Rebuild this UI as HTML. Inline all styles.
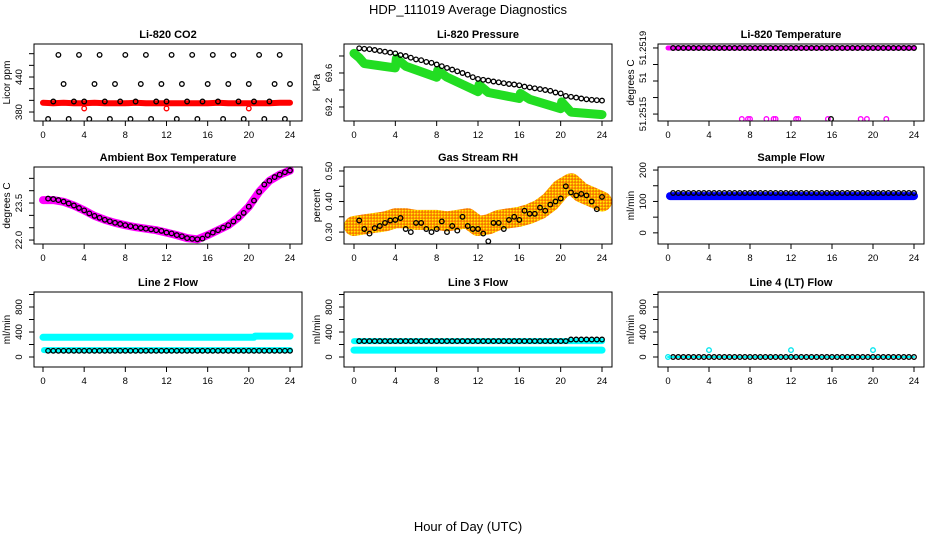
<!DOCTYPE html>
<html><head><meta charset="utf-8"><style>
html,body{margin:0;padding:0;background:#fff;}
svg{display:block;font-family:"Liberation Sans",Arial,sans-serif;}
</style></head><body>
<svg id="chart" width="936" height="540" viewBox="0 0 936 540" xmlns="http://www.w3.org/2000/svg">
<defs>
<pattern id="rhpat" width="3" height="3" patternUnits="userSpaceOnUse">
<rect width="3" height="3" fill="#ff9900"/><rect x="0" y="0" width="1.5" height="1.5" fill="#ffee00"/><rect x="1.5" y="1.5" width="1" height="1" fill="#dd2200"/>
</pattern>
</defs>
<text x="468" y="14" text-anchor="middle" font-size="13">HDP_111019  Average Diagnostics</text>
<text x="468" y="531" text-anchor="middle" font-size="13">Hour of Day (UTC)</text>
</svg>
<script>
const hours=[0.5,1,1.5,2,2.5,3,3.5,4,4.5,5,5.5,6,6.5,7,7.5,8,8.5,9,9.5,10,10.5,11,11.5,12,12.5,13,13.5,14,14.5,15,15.5,16,16.5,17,17.5,18,18.5,19,19.5,20,20.5,21,21.5,22,22.5,23,23.5,24];
const bandHours=[0,1,2,3,4,5,6,7,8,9,10,11,12,13,14,15,16,17,18,19,20,21,22,23,24];
const xTicks=[0,4,8,12,16,20,24];

const co2Black=[368,398,478,428,368,398,478,398,368,428,478,398,368,428,398,478,368,398,428,478,368,398,428,398,478,368,428,398,478,368,398,428,478,398,368,428,478,398,368,428,398,478,368,398,428,478,368,428];
const co2Red=[396,395,396,395,395,396,395,395,395,396,395,395,395,395,395,395,395,396,395,395,395,395,395,396,396];
const co2LowHours=[4,12,20];
const co2LowVals=[386,386,386];

const presBlack=[69.89,69.885,69.88,69.87,69.86,69.85,69.84,69.83,69.81,69.80,69.78,69.76,69.75,69.73,69.72,69.70,69.68,69.66,69.64,69.62,69.60,69.58,69.55,69.53,69.52,69.51,69.50,69.49,69.48,69.47,69.465,69.455,69.44,69.43,69.42,69.41,69.40,69.39,69.37,69.36,69.33,69.32,69.31,69.30,69.29,69.285,69.28,69.275];
const presGreenHours=[0,0.5,1,4,4.1,5,8,8.1,9,12,12.1,13,16,16.1,17,20,20.1,21,24];
const presGreenVals=[69.83,69.78,69.71,69.66,69.77,69.68,69.55,69.63,69.55,69.38,69.46,69.37,69.30,69.36,69.29,69.18,69.26,69.14,69.11];

const tempBlack=[51.2519,51.2519,51.2519,51.2519,51.2519,51.2519,51.2519,51.2519,51.2519,51.2519,51.2519,51.2519,51.2519,51.2519,51.2519,51.2519,51.2519,51.2519,51.2519,51.2519,51.2519,51.2519,51.2519,51.2519,51.2519,51.2519,51.2519,51.2519,51.2519,51.2519,51.2519,51.2519,51.2519,51.2519,51.2519,51.2519,51.2519,51.2519,51.2519,51.2519,51.2519,51.2519,51.2519,51.2519,51.2519,51.2519,51.2519,51.2519];
const tempBandHours=[0,24];
const tempBandVals=[51.2519,51.2519];
const tempLowHours=[7.2,7.8,8.0,9.6,10.3,10.5,12.5,12.7,15.6,18.8,19.4,21.3];
const tempLowVals=[51.25147,51.25147,51.25147,51.25147,51.25147,51.25147,51.25147,51.25147,51.25147,51.25147,51.25147,51.25147];
const tempBlackLowHours=[15.9];
const tempBlackLowVals=[51.25147];

const ambBlack=[23.68,23.66,23.62,23.56,23.48,23.4,23.3,23.2,23.08,22.98,22.9,22.82,22.76,22.7,22.65,22.6,22.56,22.52,22.49,22.46,22.43,22.4,22.37,22.3,22.27,22.2,22.15,22.08,22.05,22.03,22.06,22.2,22.3,22.4,22.5,22.6,22.75,22.92,23.1,23.35,23.6,23.95,24.25,24.4,24.55,24.65,24.75,24.82];
const ambBand=[23.62,23.62,23.55,23.4,23.2,22.98,22.82,22.7,22.6,22.52,22.46,22.4,22.3,22.2,22.08,22.03,22.2,22.4,22.6,22.92,23.35,23.95,24.4,24.65,24.82];

const rhBlack=[0.338,0.31,0.295,0.313,0.32,0.33,0.338,0.34,0.346,0.31,0.30,0.33,0.33,0.31,0.30,0.31,0.335,0.30,0.32,0.305,0.35,0.32,0.31,0.31,0.295,0.27,0.33,0.33,0.31,0.34,0.35,0.34,0.37,0.36,0.36,0.38,0.37,0.39,0.40,0.41,0.45,0.43,0.42,0.425,0.42,0.40,0.375,0.415];
const rhBand=[0.32,0.325,0.33,0.335,0.345,0.345,0.34,0.34,0.34,0.335,0.34,0.345,0.32,0.325,0.34,0.345,0.35,0.36,0.375,0.40,0.44,0.46,0.43,0.415,0.40];

const sfBlack=[127,127,127,127,127,127,127,127,127,127,127,127,127,127,127,127,127,127,127,127,127,127,127,127,127,127,127,127,127,127,127,127,127,127,127,127,127,127,127,127,127,127,127,127,127,127,127,127];
const sfBandHours=[0.2,24];
const sfBandVals=[117,117];

const l2Black=[100,100,100,100,100,100,100,100,100,100,100,100,100,100,100,100,100,100,100,100,100,100,100,100,100,100,100,100,100,100,100,100,100,100,100,100,100,100,100,100,100,100,100,100,100,100,100,100];
const l2HighHours=[0,20.5,20.6,24];
const l2HighVals=[315,315,335,335];
const l2LowHours=[0.1,24];
const l2LowVals=[110,110];

const l3Black=[255,255,255,255,255,255,255,255,255,255,255,255,255,255,255,255,255,255,255,255,255,255,255,255,255,255,255,255,255,255,255,255,255,255,255,255,255,255,255,255,255,280,280,280,280,280,280,280];
const l3HighHours=[0,24];
const l3HighVals=[255,255];
const l3LowHours=[0,24];
const l3LowVals=[110,110];

const l4Black=[0,0,0,0,0,0,0,0,0,0,0,0,0,0,0,0,0,0,0,0,0,0,0,0,0,0,0,0,0,0,0,0,0,0,0,0,0,0,0,0,0,0,0,0,0,0,0,0];
const l4BandHours=[0,24];
const l4BandVals=[0,0];
const l4CyanHours=[0,4,12,20];
const l4CyanVals=[0,110,110,110];

const NS="http://www.w3.org/2000/svg";
const svg=document.getElementById('chart');
const colL=[34,344,658],colR=[302,612,924],colX0=[43,354,668],colX24=[290,602,914];
const rowT=[44,167,292],rowB=[121,244,367];

function mk(tag,attrs,parent){const e=document.createElementNS(NS,tag);for(const k in attrs)e.setAttribute(k,attrs[k]);(parent||svg).appendChild(e);return e;}

function panel(p){
  const L=colL[p.col],R=colR[p.col],T=rowT[p.row],B=rowB[p.row];
  const xs=h=>colX0[p.col]+(colX24[p.col]-colX0[p.col])*h/24;
  const ys=v=>B-(v-p.dom[0])/(p.dom[1]-p.dom[0])*(B-T);
  const g=mk('g',{});
  
  
  const clipId='clip'+p.row+p.col;
  const cp=mk('clipPath',{id:clipId},g);mk('rect',{x:L,y:T,width:R-L,height:B-T},cp);
  const plot=mk('g',{'clip-path':'url(#'+clipId+')'},g);
  p.layers.forEach(ly=>{
    if(ly.type==='band'){
      const pts=ly.x.map((h,i)=>xs(h).toFixed(1)+','+ys(ly.y[i]).toFixed(1)).join(' ');
      const pl=mk('polyline',{points:pts,fill:'none',stroke:ly.color,'stroke-width':ly.w,'stroke-linejoin':'round','stroke-linecap':'round'},plot);
      
      
    } else {
      ly.x.forEach((h,i)=>{
        const c=mk('circle',{cx:xs(h).toFixed(1),cy:ys(ly.y[i]).toFixed(1),r:2.3,fill:'none',stroke:ly.color,'stroke-width':1.3},plot);
        
        
      });
    }
  });
  const box=mk('rect',{x:L,y:T,width:R-L,height:B-T,fill:'none',stroke:'#000','stroke-width':1},g);
  
  
  xTicks.forEach(t=>{
    const x=xs(t);
    mk('line',{x1:x,x2:x,y1:B,y2:B+5,stroke:'#000'},g);
    const tx=mk('text',{x:x,y:B+17,'text-anchor':'middle','font-size':9.5},g);
    tx.textContent=t;
    
    
  });
  p.yt.forEach(t=>{const y=ys(t);mk('line',{x1:L,x2:L-5,y1:y,y2:y,stroke:'#000'},g);});
  p.yl.forEach((t,i)=>{
    const y=ys(t);
    const tx=mk('text',{x:0,y:0,transform:'translate('+(L-12)+','+y+') rotate(-90)','text-anchor':'middle','font-size':9.5},g);
    tx.textContent=p.ylt[i];
    
    
  });
  const yl=mk('text',{x:0,y:0,transform:'translate('+(L-24)+','+((T+B)/2)+') rotate(-90)','text-anchor':'middle','font-size':10},g);
  yl.textContent=p.ylab;
  
  
  const ti=mk('text',{x:(L+R)/2,y:T-6,'text-anchor':'middle','font-size':11,'font-weight':'bold'},g);
  ti.textContent=p.title;
  
  
}

panel({name:'co2-panel',row:0,col:0,dom:[364.6,496.6],yt:[380,400,420,440,460,480],yl:[380,440],ylt:['380','440'],ylab:'Licor ppm',title:'Li-820 CO2',
  layers:[{type:'band',name:'co2-band',x:bandHours,y:co2Red,color:'#ff0000',w:6},
          {type:'pts',name:'co2-low-point',x:co2LowHours,y:co2LowVals,color:'#ff0000'},
          {type:'pts',name:'co2-hourly-point',x:hours,y:co2Black,color:'#000'}]});
panel({name:'pressure-panel',row:0,col:1,dom:[69.035,69.941],yt:[69.2,69.4,69.6,69.8],yl:[69.2,69.6],ylt:['69.2','69.6'],ylab:'kPa',title:'Li-820 Pressure',
  layers:[{type:'band',name:'pressure-band',x:presGreenHours,y:presGreenVals,color:'#22dd22',w:9},
          {type:'pts',name:'pressure-point',x:hours,y:presBlack,color:'#000'}]});
panel({name:'temperature-panel',row:0,col:2,dom:[51.251458,51.251924],yt:[51.2515,51.2516,51.2517,51.2518,51.2519],yl:[51.2515,51.25172,51.2519],ylt:['51.2515','51','51.2519'],ylab:'degrees C',title:'Li-820 Temperature',
  layers:[{type:'band',name:'temperature-band',x:tempBandHours,y:tempBandVals,color:'#ff00ff',w:5},
          {type:'pts',name:'temperature-low-point',x:tempLowHours,y:tempLowVals,color:'#ff00ff'},
          {type:'pts',name:'temperature-point',x:hours,y:tempBlack,color:'#000'},
          {type:'pts',name:'temperature-low-black',x:tempBlackLowHours,y:tempBlackLowVals,color:'#000'}]});
panel({name:'ambient-panel',row:1,col:0,dom:[21.84,24.96],yt:[22,22.5,23,23.5,24,24.5],yl:[22,23.5],ylt:['22.0','23.5'],ylab:'degrees C',title:'Ambient Box Temperature',
  layers:[{type:'band',name:'ambient-band',x:bandHours,y:ambBand,color:'#ff00ff',w:8},
          {type:'pts',name:'ambient-point',x:hours,y:ambBlack,color:'#000'}]});
panel({name:'rh-panel',row:1,col:1,dom:[0.261,0.513],yt:[0.30,0.35,0.40,0.45,0.50],yl:[0.30,0.40,0.50],ylt:['0.30','0.40','0.50'],ylab:'percent',title:'Gas Stream RH',
  layers:[{type:'band',name:'rh-band',x:bandHours,y:rhBand,color:'url(#rhpat)',w:20},
          {type:'pts',name:'rh-point',x:hours,y:rhBlack,color:'#000'}]});
panel({name:'sample-flow-panel',row:1,col:2,dom:[-35.5,209.7],yt:[0,50,100,150,200],yl:[0,100,200],ylt:['0','100','200'],ylab:'ml/min',title:'Sample Flow',
  layers:[{type:'band',name:'sample-flow-band',x:sfBandHours,y:sfBandVals,color:'#0000ff',w:8},
          {type:'pts',name:'sample-flow-point',x:hours,y:sfBlack,color:'#000'}]});
panel({name:'line2-panel',row:2,col:0,dom:[-160,1040],yt:[0,200,400,600,800,1000],yl:[0,400,800],ylt:['0','400','800'],ylab:'ml/min',title:'Line 2 Flow',
  layers:[{type:'band',name:'line2-high-band',x:l2HighHours,y:l2HighVals,color:'#00ffff',w:7},
          {type:'band',name:'line2-low-band',x:l2LowHours,y:l2LowVals,color:'#00ffff',w:6},
          {type:'pts',name:'line2-point',x:hours,y:l2Black,color:'#000'}]});
panel({name:'line3-panel',row:2,col:1,dom:[-160,1040],yt:[0,200,400,600,800,1000],yl:[0,400,800],ylt:['0','400','800'],ylab:'ml/min',title:'Line 3 Flow',
  layers:[{type:'band',name:'line3-high-band',x:l3HighHours,y:l3HighVals,color:'#00ffff',w:6},
          {type:'band',name:'line3-low-band',x:l3LowHours,y:l3LowVals,color:'#00ffff',w:7},
          {type:'pts',name:'line3-point',x:hours,y:l3Black,color:'#000'}]});
panel({name:'line4-panel',row:2,col:2,dom:[-160,1040],yt:[0,200,400,600,800,1000],yl:[0,400,800],ylt:['0','400','800'],ylab:'ml/min',title:'Line 4 (LT) Flow',
  layers:[{type:'band',name:'line4-band',x:l4BandHours,y:l4BandVals,color:'#00ffff',w:2},
          {type:'pts',name:'line4-point',x:hours,y:l4Black,color:'#000'},
          {type:'pts',name:'line4-cyan-point',x:l4CyanHours,y:l4CyanVals,color:'#00e5ee'}]});
</script>
</body></html>
